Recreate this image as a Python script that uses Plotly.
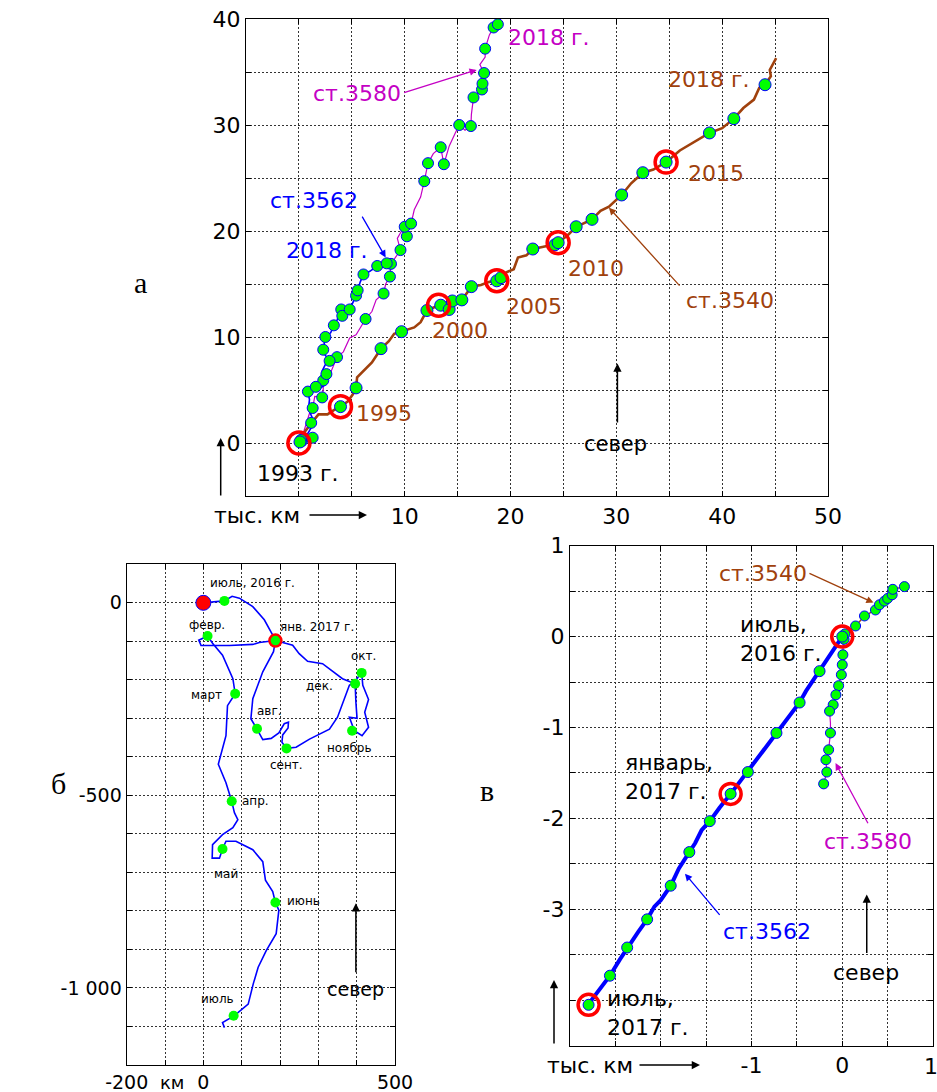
import plotly.graph_objects as go

W, H = 937, 1092
FONT = "DejaVu Sans, Arial, sans-serif"
SERIF = "Liberation Serif, Times New Roman, serif"
BROWN = "#a0410d"
MAG = "#c400c4"
BLUE = "#0000ff"
GREEN = "#00ff00"
RED = "#ff0000"

# ---------------- Panel a (thousand km, 1993-2018) ----------------
a3540_x = [0, 0.5, 1.2, 1.85, 2.7, 3.3, 3.93, 4.6, 5.1, 5.4, 5.5, 6.2, 6.9, 7.76, 8.5, 9.0, 9.7, 10.9,
           11.5, 12.1, 13.2, 14.5, 15.4, 16.3, 17.2, 18.0, 18.7, 19.6, 20.3, 20.7, 21.5, 22.1, 23.0,
           24.0, 24.5, 25.4, 26.2, 27.7, 28.5, 29.3, 30.5, 31.4, 32.5, 33.5, 34.0, 34.7, 36.0, 37.5,
           38.8, 40.0, 41.1, 42.0, 43.0, 43.5, 44.05, 44.6, 44.5, 45.1]
a3540_y = [0, 1.0, 1.9, 2.7, 2.7, 3.1, 3.43, 3.9, 4.6, 5.2, 6.2, 6.9, 7.6, 8.9, 9.6, 10.3, 10.5, 10.9,
           11.4, 12.5, 13.0, 13.4, 13.5, 14.75, 14.9, 15.2, 15.3, 16.1, 16.4, 17.5, 17.7, 18.3, 18.5,
           18.7, 18.9, 19.6, 20.4, 21.1, 21.9, 22.3, 23.4, 24.5, 25.5, 25.8, 26.1, 26.5, 27.6, 28.5,
           29.25, 29.7, 30.6, 31.6, 32.4, 33.5, 33.8, 34.6, 35.2, 36.3]
a3540_mx = [0.1, 3.93, 5.4, 7.76, 9.7, 12.1, 13.4, 14.2, 14.5, 15.4, 16.3, 18.7, 19.1, 22.1, 24.2,
            24.5, 26.2, 27.7, 30.5, 32.5, 34.7, 38.8, 41.1, 44.05]
a3540_my = [0.1, 3.43, 5.2, 8.9, 10.5, 12.5, 13.0, 12.6, 13.4, 13.5, 14.75, 15.3, 15.6, 18.3, 18.7,
            18.9, 20.4, 21.1, 23.4, 25.5, 26.5, 29.25, 30.6, 33.8]
a_ring_x = [0, 3.93, 13.2, 18.7, 24.5, 34.7]
a_ring_y = [0, 3.43, 13.0, 15.3, 18.9, 26.5]

a3580_x = [0, 0.5, 1.0, 1.3, 1.5, 2.2, 2.3, 2.3, 2.9, 3.6, 4.2, 4.8, 5.4, 6.3, 6.9, 7.3, 8.0, 8.2, 8.6,
           8.7, 9.6, 9.3, 9.7, 10.2, 10.0, 10.6, 10.9, 11.5, 11.85, 12.2, 12.7, 13.4, 13.7, 14.2, 14.8,
           15.15, 15.7, 16.25, 16.3, 16.5, 17.3, 17.35, 17.5, 17.1, 17.6, 17.6, 18.0, 18.4, 18.8]
a3580_y = [0, 1.2, 2.8, 3.3, 4.4, 4.3, 5.1, 5.9, 6.4, 8.1, 8.6, 9.9, 10.2, 11.7, 12.4, 13.5, 14.1, 15.0,
           15.7, 16.9, 18.2, 19.3, 20.0, 19.5, 20.4, 20.7, 22.0, 23.2, 24.7, 26.4, 27.3, 27.9, 26.3,
           28.0, 29.3, 30.0, 29.5, 29.9, 31.0, 32.6, 33.35, 33.9, 34.9, 35.7, 36.4, 37.2, 38.5, 39.2, 39.5]
a3580_mx = [0.3, 1.3, 2.2, 2.3, 3.6, 6.3, 8.0, 8.6, 8.7, 9.6, 10.2, 10.0, 10.6, 11.85, 12.2, 13.4,
            13.7, 15.15, 16.25, 16.5, 17.3, 17.35, 17.5, 17.6, 18.4, 18.8]
a3580_my = [0.2, 3.3, 4.3, 5.9, 8.1, 11.7, 14.1, 15.7, 16.9, 18.2, 19.5, 20.4, 20.7, 24.7, 26.4, 27.9,
            26.3, 30.0, 29.9, 32.6, 33.35, 33.9, 34.9, 37.2, 39.2, 39.5]

a3562_x = [0, 0.6, 1.2, 1.3, 0.9, 1.0, 0.85, 1.3, 1.9, 2.5, 2.7, 2.2, 2.6, 2.9, 2.4, 2.3, 2.5, 3.0,
           3.3, 3.6, 4.0, 4.1, 4.8, 5.1, 5.4, 5.55, 5.8, 6.1, 6.7, 7.4, 7.9, 8.3, 8.6]
a3562_y = [0, 0.5, 1.5, 2.3, 3.2, 4.1, 4.85, 5.2, 5.1, 5.5, 6.2, 6.8, 7.6, 7.75, 8.4, 8.8, 10.0, 10.4,
           11.1, 11.6, 12.6, 12.0, 12.6, 13.2, 13.9, 14.4, 15.2, 15.9, 16.2, 16.7, 16.8, 16.95, 17.0]
a3562_mx = [0.2, 1.3, 1.16, 0.85, 1.6, 2.6, 2.9, 2.3, 2.5, 3.3, 4.0, 4.1, 4.8, 5.4, 5.55, 6.1, 7.4, 8.3]
a3562_my = [0.3, 0.5, 1.9, 4.85, 5.3, 6.5, 7.75, 8.8, 10.0, 11.1, 12.6, 12.0, 12.6, 13.9, 14.4, 15.9,
            16.7, 16.95]

a_xticks = [0, 5, 10, 15, 20, 25, 30, 35, 40, 45, 50]
a_xtext = ["", "", "10", "", "20", "", "30", "", "40", "", "50"]
a_yticks = [-5, 0, 5, 10, 15, 20, 25, 30, 35, 40]
a_ytext = ["", "0", "", "10", "", "20", "", "30", "", "40"]

# ---------------- Panel b (km, July 2016 - July 2017, st.3562) ----------------
b_x = [0, 30, 55, 75, 94, 129, 159, 181, 188, 183, 155, 129, 124, 140, 155, 177, 197, 211, 222, 221,
       207, 205, 217, 242, 277, 329, 350, 381, 396, 407, 413, 416, 431, 421, 431, 414, 394, 381, 401,
       398, 396, 363, 311, 272, 250, 233, 203, 188, 146, 129, 68, -6, -12, 11, 24, 50, 77, 83, 63, 59,
       39, 59, 74, 81, 90, 77, 50, 24, 23, 42, 50, 59, 85, 129, 155, 162, 181, 188, 197, 190, 164,
       143, 130, 117, 81, 50, 55]
b_y = [0, 3, 5, 17, 12, -10, -44, -84, -98, -127, -179, -249, -301, -328, -355, -352, -338, -314,
       -310, -325, -343, -362, -378, -375, -354, -328, -297, -214, -204, -188, -182, -214, -251, -284,
       -323, -345, -332, -297, -300, -258, -210, -197, -158, -152, -132, -110, -103, -98, -103, -108,
       -111, -111, -97, -86, -105, -136, -197, -236, -267, -345, -419, -467, -515, -545, -563, -584,
       -602, -628, -663, -663, -639, -619, -619, -641, -672, -720, -750, -778, -798, -859, -903, -946,
       -990, -1042, -1072, -1090, -1103]
b_mx = [55, 140, 217, 413, 388, 396, 11, 83, 74, 50, 188, 79]
b_my = [5, -327, -378, -182, -332, -210, -86, -236, -515, -639, -778, -1072]
b_start = (0, 0)
b_jan = (188, -98)
b_xticks = [-200, -100, 0, 100, 200, 300, 400, 500]
b_xtext = ["-200", "", "0", "", "", "", "", "500"]
b_yticks = [100, 0, -100, -200, -300, -400, -500, -600, -700, -800, -900, -1000, -1100, -1200]
b_ytext = ["", "0", "", "", "", "", "-500", "", "", "", "", "-1 000", "", ""]

# ---------------- Panel c (thousand km, 2016-2017, three stations) ----------------
c3562_x = [0, -0.1, -0.25, -0.33, -0.4, -0.47, -0.58, -0.64, -0.725, -0.85, -0.95, -1.04, -1.13,
           -1.23, -1.35, -1.46, -1.55, -1.62, -1.685, -1.8, -1.89, -2.0, -2.07, -2.15, -2.25, -2.37,
           -2.45, -2.56, -2.68, -2.78, -2.83]
c3562_y = [0, -0.15, -0.38, -0.5, -0.6, -0.725, -0.87, -0.95, -1.06, -1.23, -1.37, -1.49, -1.6,
           -1.73, -1.88, -2.03, -2.13, -2.27, -2.37, -2.55, -2.74, -2.9, -2.97, -3.11, -3.25, -3.42,
           -3.55, -3.73, -3.88, -4.02, -4.09]
c3562_mx = [0, -0.25, -0.47, -0.725, -1.04, -1.23, -1.46, -1.685, -1.89, -2.15, -2.37, -2.56, -2.795]
c3562_my = [0, -0.38, -0.725, -1.06, -1.49, -1.73, -2.03, -2.37, -2.74, -3.11, -3.42, -3.73, -4.05]
c_ring_x = [0, -1.23, -2.795]
c_ring_y = [0, -1.73, -4.05]

c3580_x = [0, 0.01, 0.007, 0, -0.01, -0.04, -0.07, -0.10, -0.14, -0.13, -0.13, -0.15, -0.18, -0.17, -0.205]
c3580_y = [0, -0.1, -0.2, -0.31, -0.42, -0.54, -0.64, -0.75, -0.82, -0.95, -1.06, -1.245, -1.355, -1.49, -1.62]
c3580_mx = [0.02, 0.007, 0, -0.01, -0.04, -0.07, -0.10, -0.14, -0.13, -0.15, -0.18, -0.17, -0.205]
c3580_my = [-0.03, -0.2, -0.31, -0.42, -0.54, -0.64, -0.75, -0.82, -1.06, -1.245, -1.355, -1.49, -1.62]

c3540_x = [0, 0.147, 0.245, 0.366, 0.41, 0.465, 0.50, 0.55, 0.557, 0.685]
c3540_y = [0, 0.117, 0.227, 0.293, 0.35, 0.39, 0.42, 0.46, 0.52, 0.55]
c3540_mx = [0.03, 0.147, 0.245, 0.366, 0.41, 0.465, 0.50, 0.55, 0.557, 0.685]
c3540_my = [0.03, 0.117, 0.227, 0.293, 0.35, 0.39, 0.42, 0.46, 0.52, 0.55]

c_xticks = [-3, -2.5, -2, -1.5, -1, -0.5, 0, 0.5, 1]
c_xtext = ["", "", "", "", "-1", "", "0", "", ""]
c_xedge_label = "1"
c_yticks = [1, 0.5, 0, -0.5, -1, -1.5, -2, -2.5, -3, -3.5, -4, -4.5]
c_ytext = ["1", "", "0", "", "-1", "", "-2", "", "-3", "", "", ""]

fig = go.Figure()


def line(x, y, color, width, ax):
    fig.add_trace(go.Scatter(x=x, y=y, mode="lines", line=dict(color=color, width=width),
                             xaxis=ax[0], yaxis=ax[1], hoverinfo="skip"))


def dots(x, y, size, ax, edge=BLUE, ew=1, color=GREEN, symbol="circle"):
    fig.add_trace(go.Scatter(x=x, y=y, mode="markers",
                             marker=dict(symbol=symbol, size=size, color=color,
                                         line=dict(color=edge, width=ew)),
                             xaxis=ax[0], yaxis=ax[1], hoverinfo="skip"))


A = ("x", "y")
B = ("x2", "y2")
C = ("x3", "y3")

# panel a
line(a3580_x, a3580_y, MAG, 1.2, A)
line(a3562_x, a3562_y, BLUE, 1.6, A)
line(a3540_x, a3540_y, BROWN, 2.6, A)
dots(a3580_mx, a3580_my, 11, A)
dots(a3562_mx, a3562_my, 11, A)
dots(a3540_mx, a3540_my, 12, A)
fig.add_trace(go.Scatter(x=a_ring_x, y=a_ring_y, mode="markers", xaxis="x", yaxis="y",
                         marker=dict(symbol="circle-open", size=22, color=RED, line=dict(width=3.5)),
                         hoverinfo="skip"))

# panel b
line(b_x, b_y, BLUE, 1.6, B)
dots(b_mx, b_my, 10, B, edge=GREEN, ew=0)
dots([b_jan[0]], [b_jan[1]], 12, B, edge=RED, ew=2.5)
dots([b_start[0]], [b_start[1]], 15, B, edge=BLUE, ew=1, color=RED)

# panel c
line(c3580_x, c3580_y, MAG, 1.2, C)
line(c3540_x, c3540_y, BROWN, 1.4, C)
line(c3562_x, c3562_y, BLUE, 4, C)
dots(c3580_mx, c3580_my, 10, C)
dots(c3540_mx, c3540_my, 10, C)
dots(c3562_mx, c3562_my, 11, C)
fig.add_trace(go.Scatter(x=c_ring_x, y=c_ring_y, mode="markers", xaxis="x3", yaxis="y3",
                         marker=dict(symbol="circle-open", size=21, color=RED, line=dict(width=3.5)),
                         hoverinfo="skip"))


def px2paper(px, py):
    return px / W, 1 - py / H


def axis_style(domain, tickvals, ticktext, rng, fs, anchor):
    return dict(domain=domain, range=rng, tickmode="array", tickvals=tickvals, ticktext=ticktext,
                anchor=anchor, automargin=False,
                showgrid=True, gridcolor="#333333", griddash="2px,2px", gridwidth=1,
                zeroline=False, showline=True, linecolor="black", linewidth=1.2, mirror="ticks",
                ticks="inside", ticklen=5, tickcolor="black",
                tickfont=dict(family=FONT, size=fs, color="black"), fixedrange=True)


fig.update_layout(
    width=W, height=H, autosize=False, margin=dict(l=0, r=0, t=0, b=0, pad=0),
    paper_bgcolor="white", plot_bgcolor="white", showlegend=False,
    xaxis=axis_style([246 / W, 828 / W], a_xticks, a_xtext, [-5, 50], 22, "y"),
    yaxis=axis_style([1 - 496 / H, 1 - 19 / H], a_yticks, a_ytext, [-5, 40], 22, "x"),
    xaxis2=axis_style([126.7 / W, 395 / W], b_xticks, b_xtext, [-200, 500], 19, "y2"),
    yaxis2=axis_style([1 - 1065 / H, 1 - 564.3 / H], b_yticks, b_ytext, [-1200, 100], 19, "x2"),
    xaxis3=axis_style([570 / W, 933 / W], c_xticks, c_xtext, [-3, 1], 22, "y3"),
    yaxis3=axis_style([1 - 1045.7 / H, 1 - 545.7 / H], c_yticks, c_ytext, [-4.5, 1], 22, "x3"),
)

ann = []


def text(xref, yref, x, y, s, color, size, xanchor="center", align="center", family=FONT):
    ann.append(dict(xref=xref, yref=yref, x=x, y=y, text=s, showarrow=False, xanchor=xanchor,
                    yanchor="middle", align=align, font=dict(family=family, size=size, color=color)))


def arrow(xref, yref, x, y, ax, ay, color, width=1.3):
    ann.append(dict(xref=xref, yref=yref, axref=xref, ayref=yref, x=x, y=y, ax=ax, ay=ay, text="",
                    showarrow=True, arrowhead=2, arrowsize=1.1, arrowwidth=width, arrowcolor=color))


def parrow(hx, hy, dx, dy, color="black", width=1.5):
    x, y = px2paper(hx, hy)
    ann.append(dict(xref="paper", yref="paper", x=x, y=y, ax=dx, ay=dy, text="", showarrow=True,
                    arrowhead=2, arrowsize=1.1, arrowwidth=width, arrowcolor=color))


def ptext(px, py, s, size, color="black", family=FONT, xanchor="center"):
    x, y = px2paper(px, py)
    ann.append(dict(xref="paper", yref="paper", x=x, y=y, text=s, showarrow=False, xanchor=xanchor,
                    yanchor="middle", font=dict(family=family, size=size, color=color)))


# panel a texts
text("x", "y", 23.6, 38.3, "2018 г.", MAG, 22)
text("x", "y", 5.5, 33.0, "ст.3580", MAG, 22)
arrow("x", "y", 16.8, 35.2, 9.8, 33.0, MAG)
text("x", "y", 1.45, 22.9, "ст.3562", BLUE, 22)
arrow("x", "y", 8.2, 17.5, 5.9, 21.5, BLUE)
text("x", "y", 2.7, 18.2, "2018 г.", BLUE, 22)
text("x", "y", 38.8, 34.3, "2018 г.", BROWN, 22)
text("x", "y", 39.4, 25.4, "2015", BROWN, 22)
text("x", "y", 28.05, 16.45, "2010", BROWN, 22)
text("x", "y", 22.2, 12.9, "2005", BROWN, 22)
text("x", "y", 15.2, 10.6, "2000", BROWN, 22)
text("x", "y", 8.0, 2.75, "1995", BROWN, 22)
text("x", "y", -0.07, -2.84, "1993 г.", "black", 22)
text("x", "y", 40.7, 13.4, "ст.3540", BROWN, 22)
arrow("x", "y", 29.3, 22.2, 36.1, 14.7, BROWN)
text("x", "y", 29.95, -0.1, "север", "black", 21)
arrow("x", "y", 30.1, 7.5, 30.1, 1.8, "black", 1.5)
ptext(257, 515, "тыс. км", 22)
parrow(367, 515, -59, 0)
parrow(220.7, 438, 0, 59)
ptext(140, 283, "а", 30, family=SERIF)

# panel b texts
b_lab = [("июль, 2016 г.", 128, 51), ("февр.", 10, -57), ("янв. 2017 г.", 297, -64),
         ("окт.", 417, -139), ("дек.", 304, -217), ("март", 8, -240), ("авг.", 173, -280),
         ("сент.", 218, -422), ("ноябрь", 381, -377), ("апр.", 136, -515), ("май", 59, -704),
         ("июнь", 260, -774), ("июль", 37, -1028)]
for s, x, y in b_lab:
    text("x2", "y2", x, y, s, "black", 12)
text("x2", "y2", 397, -1002, "север", "black", 19)
arrow("x2", "y2", 398, -780, 398, -963, "black", 1.5)
ptext(172, 1082, "км", 18)
ptext(58, 783, "б", 30, family=SERIF)

# panel c texts
text("x3", "y3", -0.876, 0.697, "ст.3540", BROWN, 22)
arrow("x3", "y3", 0.344, 0.374, -0.378, 0.703, BROWN)
text("x3", "y3", -1.15, -0.031, "июль,<br>2016 г.", "black", 22, xanchor="left", align="left")
text("x3", "y3", -2.415, -1.547, "январь,<br>2017 г.", "black", 22, xanchor="left", align="left")
text("x3", "y3", 0.289, -2.253, "ст.3580", MAG, 22)
arrow("x3", "y3", -0.074, -1.391, 0.292, -2.069, MAG)
text("x3", "y3", -0.826, -3.242, "ст.3562", BLUE, 22)
arrow("x3", "y3", -1.733, -2.608, -1.337, -3.077, BLUE)
text("x3", "y3", 0.264, -3.699, "север", "black", 22)
arrow("x3", "y3", 0.27, -2.838, 0.27, -3.498, "black", 1.5)
text("x3", "y3", -2.612, -4.135, "июль,<br>2017 г.", "black", 22, xanchor="left", align="left")
ptext(590, 1065, "тыс. км", 22)
ptext(931, 1066, c_xedge_label, 22)
parrow(700, 1065, -62, 0)
parrow(554, 980, 0, 65)
ptext(487, 790, "в", 30, family=SERIF)

fig.update_layout(annotations=ann)
fig.write_html("out.html")
